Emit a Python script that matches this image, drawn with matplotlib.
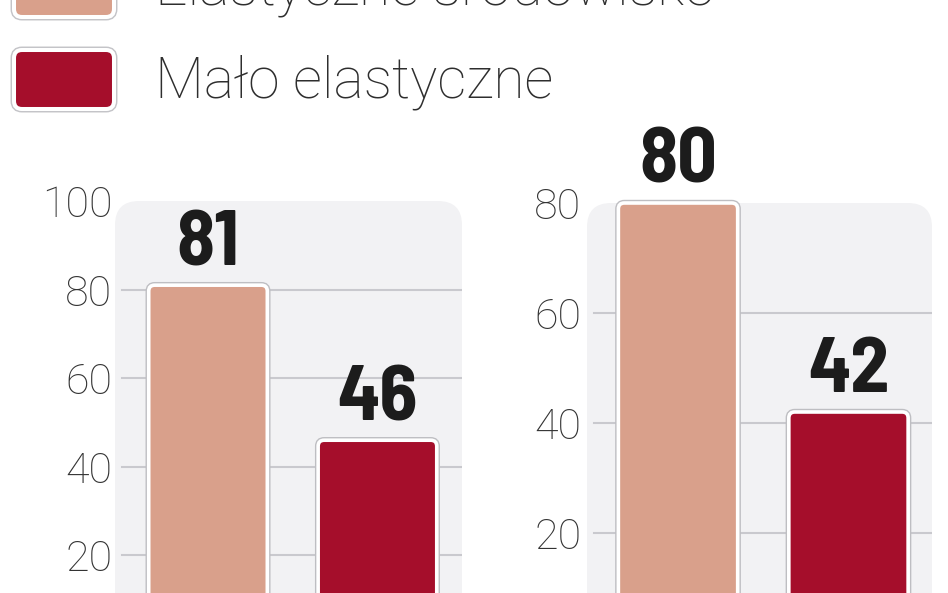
import matplotlib
matplotlib.use("Agg")
import matplotlib.pyplot as plt
from matplotlib.patches import FancyBboxPatch
import matplotlib.patheffects as pe

# ---- data ----
categories = ["Elastyczne środowisko", "Mało elastyczne"]
left_values = [81, 46]
right_values = [80, 42]
left_ticks = [20, 40, 60, 80, 100]
right_ticks = [20, 40, 60, 80]
colors = ["#D9A08B", "#A50E2B"]

W, H = 948, 593
plt.rcParams["font.family"] = ["Roboto", "DejaVu Sans"]

fig = plt.figure(figsize=(W / 100, H / 100), dpi=100)
fig.patch.set_facecolor("white")


def fx(x):
    return x / W


def fy(y):
    return 1 - y / H


LABEL_FONT = ["Barlow Semi Condensed", "Barlow Condensed", "DejaVu Sans"]
TICK_COLOR = "#333333"


def make_panel(rect_px, values, ticks, ymax, xlim, tick_pad):
    x0, x1, ytop, ybot = rect_px
    ax = fig.add_axes([fx(x0), fy(ybot), (x1 - x0) / W, (ybot - ytop) / H])
    ax.set_xlim(*xlim)
    ax.set_ylim(0, ymax)
    ax.set_facecolor("none")
    for s in ax.spines.values():
        s.set_visible(False)
    ax.set_xticks([])
    ax.set_yticks(ticks, labels=[str(t) for t in ticks], fontsize=31,
                  fontweight="light", color=TICK_COLOR)
    ax.tick_params(axis="y", length=0, pad=tick_pad)

    wpx = x1 - x0
    hpx = ybot - ytop
    # rounded background panel
    r = 24 / wpx
    bg = FancyBboxPatch((0, -0.3), 1, 1.3,
                        boxstyle=f"round,pad=0,rounding_size={r}",
                        mutation_aspect=wpx / hpx,
                        transform=ax.transAxes, facecolor="#F2F2F4",
                        edgecolor="none", zorder=0, clip_on=False)
    ax.add_patch(bg)

    # gridlines
    for t in ticks:
        if 0 < t < ymax:
            ax.axhline(t, xmin=0.02, xmax=1, color="#C9C9CE", lw=1.5, zorder=1)

    # bars
    xs = list(range(len(values)))
    bars = ax.bar(xs, values, width=0.70, color=colors)
    pxx = wpx / (xlim[1] - xlim[0])
    pxy = hpx / ymax
    for rect, c in zip(bars.patches, colors):
        bx, by = rect.get_xy()
        bw, bh = rect.get_width(), rect.get_height()
        fb = FancyBboxPatch((bx, by), bw, bh,
                            boxstyle=f"round,pad=0,rounding_size={6 / pxx}",
                            mutation_aspect=pxx / pxy,
                            facecolor=c, edgecolor="white", lw=2.6, zorder=3,
                            clip_on=False,
                            path_effects=[pe.Stroke(linewidth=4.6, foreground="#BEBEC2"),
                                          pe.Normal()])
        ax.add_patch(fb)
        rect.remove()

    for xi, v in zip(xs, values):
        ax.annotate(str(v), xy=(xi, v), xytext=(0, 14.5), textcoords="offset points",
                    ha="center", va="baseline", fontsize=56, fontweight="bold",
                    family=LABEL_FONT, color="#1c1c1c", annotation_clip=False,
                    zorder=4)
    return ax


axL = make_panel((115, 462, 201, 644), left_values, left_ticks, 100,
                 (-0.549, 1.499), 2)
axR = make_panel((587, 932, 203, 643), right_values, right_ticks, 80,
                 (-0.534, 1.49), 4)

# ---- legend (manual) ----
rows_y = [-42, 50]  # top of swatch boundary in px
for cat, c, ty in zip(categories, colors, rows_y):
    x0, x1 = 14, 114
    y0, y1 = ty, ty + 59
    sw = FancyBboxPatch((fx(x0), fy(y1)), (x1 - x0) / W, (y1 - y0) / H,
                        boxstyle=f"round,pad=0,rounding_size={8 / W}",
                        mutation_aspect=W / H, transform=fig.transFigure,
                        facecolor=c, edgecolor="white", lw=2.9, zorder=3,
                        path_effects=[pe.Stroke(linewidth=5, foreground="#C4C4C8"),
                                      pe.Normal()])
    fig.add_artist(sw)
    fig.text(fx(155), fy(ty + 47), cat, fontsize=41, fontweight="light",
             color="#2e2e2e", ha="left", va="baseline")

fig.savefig("out.png", dpi=100, facecolor="white")
